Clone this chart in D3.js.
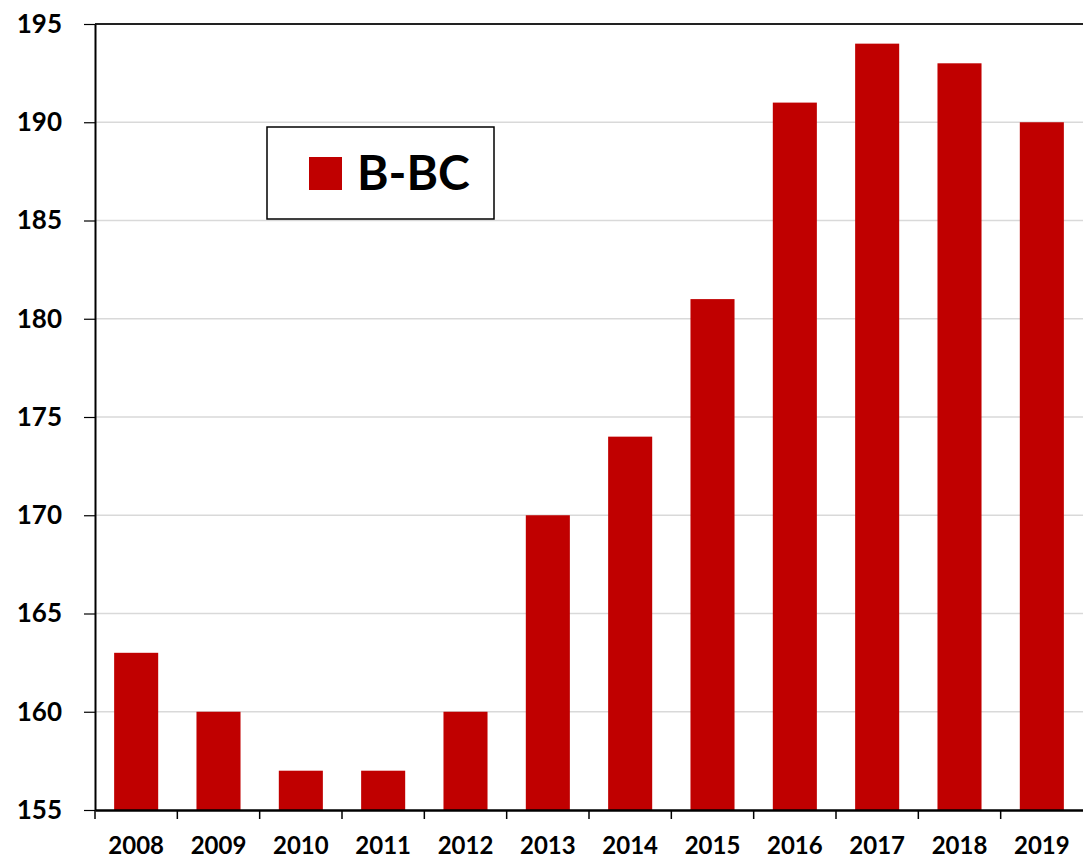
<!DOCTYPE html>
<html><head><meta charset="utf-8">
<script src="https://cdn.jsdelivr.net/npm/d3@7"></script>
<style>body{margin:0;background:#fff}</style>
</head><body>
<svg id="c" width="1083" height="858"></svg>
<script>
const years = ["2008","2009","2010","2011","2012","2013","2014","2015","2016","2017","2018","2019"];
const values = [163,160,157,157,160,170,174,181,191,194,193,190];
const yTicks = [155,160,165,170,175,180,185,190,195];
const seriesName = "B-BC";

const svg = d3.select("#c");
const m = {left:95, top:24, right:1083, bottom:810};
const x = d3.scaleBand().domain(years).range([m.left, m.right]).paddingInner(0.465).paddingOuter(0.2325);
const y = d3.scaleLinear().domain([155,195]).range([m.bottom, m.top]);
const font = "Lato, 'Open Sans', 'Liberation Sans', sans-serif";

// gridlines
svg.append("g").selectAll("line").data(yTicks.filter(t=>t>155 && t<195)).join("line")
  .attr("x1", m.left).attr("x2", m.right).attr("y1", d=>y(d)).attr("y2", d=>y(d))
  .attr("stroke","#d9d9d9").attr("stroke-width",1.5);

// bars
svg.append("g").selectAll("rect").data(values).join("rect")
  .attr("x",(d,i)=>x(years[i])).attr("width",x.bandwidth())
  .attr("y",d=>y(d)).attr("height",d=>y(155)-y(d))
  .attr("fill","#c00000");

// top line
svg.append("line").attr("x1",m.left).attr("x2",m.right).attr("y1",y(195)).attr("y2",y(195))
  .attr("stroke","#222").attr("stroke-width",2);

// y axis
const ya = svg.append("g").attr("transform",`translate(${m.left},0)`)
  .call(d3.axisLeft(y).tickValues(yTicks).tickSize(11).tickPadding(22).tickSizeOuter(0));
ya.select(".domain").attr("stroke","#000").attr("stroke-width",2);
ya.selectAll(".tick line").attr("stroke","#000").attr("stroke-width",1.2);
ya.selectAll("text").attr("font-family",font).attr("font-weight","bold").attr("font-size",26).attr("fill","#000");

// x axis
const xa = svg.append("g").attr("transform",`translate(0,${m.bottom})`)
  .call(d3.axisBottom(x).tickSize(0).tickPadding(27).tickSizeOuter(0));
xa.select(".domain").attr("stroke","#000").attr("stroke-width",2.5);
xa.selectAll("text").attr("font-family",font).attr("font-weight","bold").attr("font-size",24).attr("fill","#000");
// category boundary ticks
const step = x.step();
const bounds = d3.range(years.length).map(i=>m.left + i*step);
xa.append("g").selectAll("line").data(bounds).join("line")
  .attr("x1",d=>d).attr("x2",d=>d).attr("y1",0).attr("y2",9)
  .attr("stroke","#000").attr("stroke-width",1.5);

// legend
const lg = svg.append("g");
lg.append("rect").attr("x",267).attr("y",127).attr("width",227).attr("height",92)
  .attr("fill","#fff").attr("stroke","#000").attr("stroke-width",1.5);
lg.append("rect").attr("x",309).attr("y",157).attr("width",33).attr("height",33).attr("fill","#c00000");
lg.append("text").attr("x",357).attr("y",190).text(seriesName)
  .attr("font-family",font).attr("font-weight","bold").attr("font-size",48).attr("fill","#000");
</script>
</body></html>
